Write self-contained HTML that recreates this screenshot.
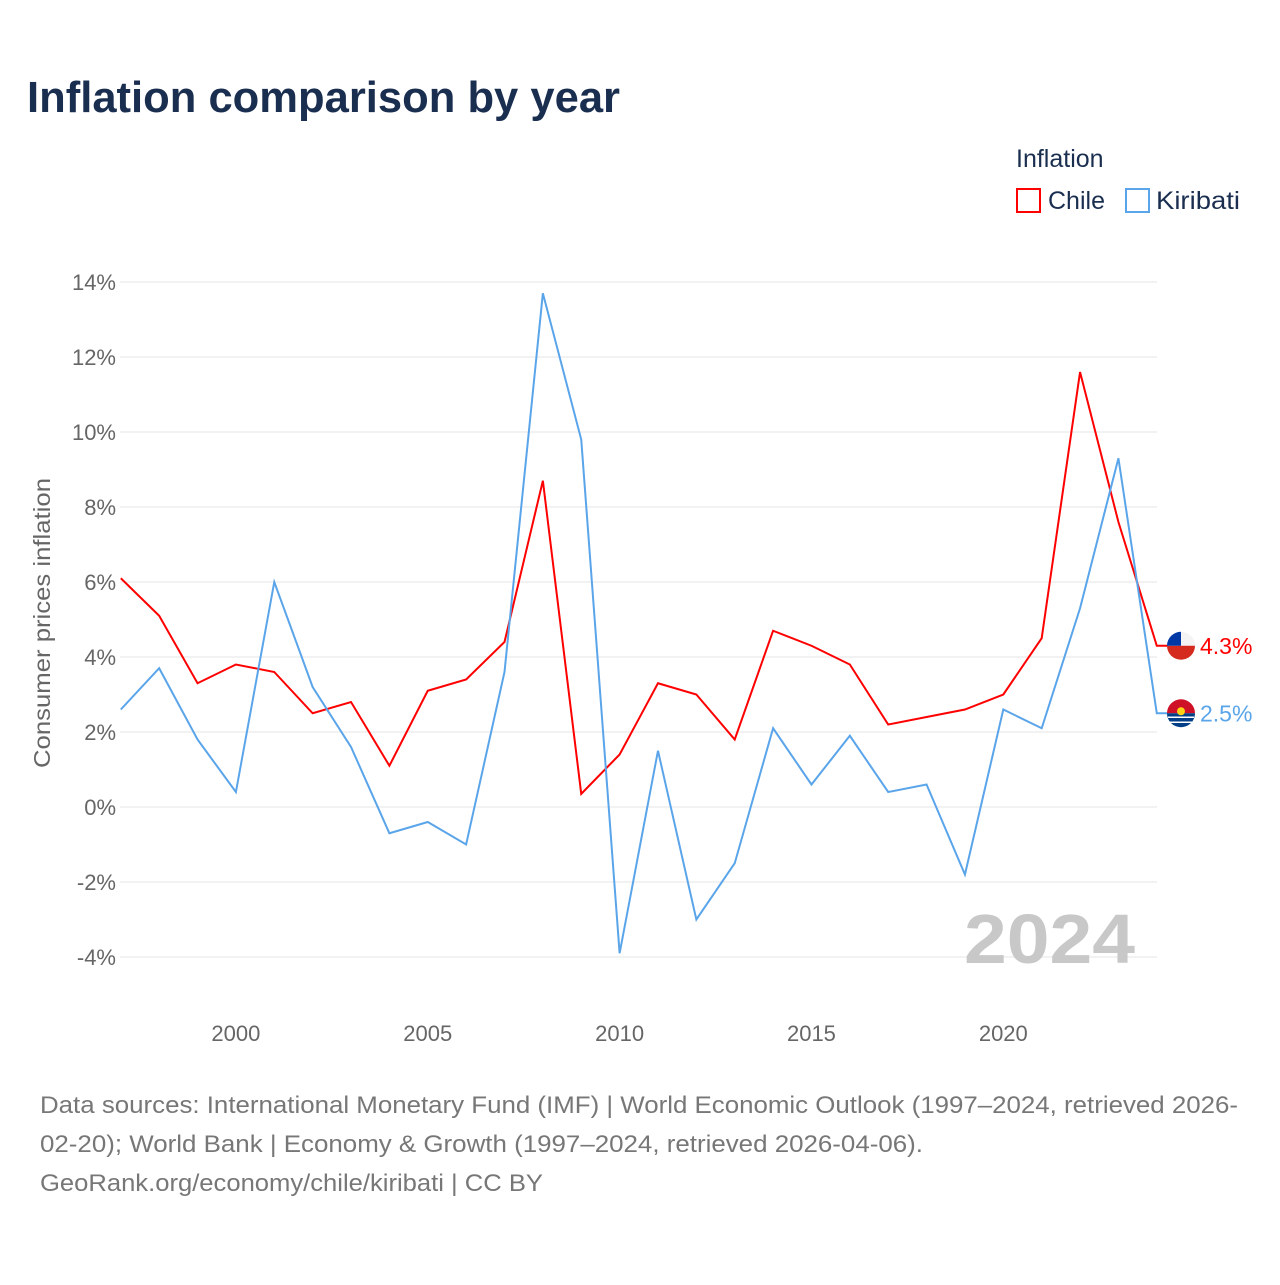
<!DOCTYPE html>
<html><head><meta charset="utf-8"><style>
body{margin:0;background:#fff;font-family:"Liberation Sans",sans-serif}
</style></head><body>
<svg id="c" width="1280" height="1280" xmlns="http://www.w3.org/2000/svg">
<text x="27" y="112" font-size="44" font-weight="bold" fill="#1a2e50" textLength="593" lengthAdjust="spacingAndGlyphs">Inflation comparison by year</text>
<text x="1016" y="167" font-size="25" fill="#1a2e50">Inflation</text>
<g><rect x="1017" y="189" width="23" height="23" fill="none" stroke="#f00" stroke-width="2"/><text x="1048" y="209" font-size="25" fill="#1a2e50">Chile</text></g>
<g><rect x="1126" y="189" width="23" height="23" fill="none" stroke="#5aa5ea" stroke-width="2"/><text x="1156" y="209" font-size="25" fill="#1a2e50" textLength="84" lengthAdjust="spacingAndGlyphs">Kiribati</text></g>
<text transform="translate(50,623) rotate(-90)" text-anchor="middle" font-size="23" fill="#666" textLength="290" lengthAdjust="spacingAndGlyphs">Consumer prices inflation</text>
<g id="grid"></g><g id="ticks"></g>
<text x="964" y="963" font-size="70" font-weight="bold" fill="#c8c8c8" textLength="171" lengthAdjust="spacingAndGlyphs">2024</text>
<g id="lines"></g>
<text x="40" y="1113" font-size="24" fill="#777" textLength="1198" lengthAdjust="spacingAndGlyphs">Data sources: International Monetary Fund (IMF) | World Economic Outlook (1997–2024, retrieved 2026-</text>
<text x="40" y="1152" font-size="24" fill="#777" textLength="883" lengthAdjust="spacingAndGlyphs">02-20); World Bank | Economy &amp; Growth (1997–2024, retrieved 2026-04-06).</text>
<text x="40" y="1191" font-size="24" fill="#777" textLength="503" lengthAdjust="spacingAndGlyphs">GeoRank.org/economy/chile/kiribati | CC BY</text>
</svg>
<script>
const years=[1997,1998,1999,2000,2001,2002,2003,2004,2005,2006,2007,2008,2009,2010,2011,2012,2013,2014,2015,2016,2017,2018,2019,2020,2021,2022,2023,2024];
const chile=[6.1,5.1,3.3,3.8,3.6,2.5,2.8,1.1,3.1,3.4,4.4,8.7,0.35,1.4,3.3,3.0,1.8,4.7,4.3,3.8,2.2,2.4,2.6,3.0,4.5,11.6,7.6,4.3];
const kiribati=[2.6,3.7,1.8,0.4,6.0,3.2,1.6,-0.7,-0.4,-1.0,3.6,13.7,9.8,-3.9,1.5,-3.0,-1.5,2.1,0.6,1.9,0.4,0.6,-1.8,2.6,2.1,5.3,9.3,2.5];
const yTicks=[-4,-2,0,2,4,6,8,10,12,14];
const xTicks=[2000,2005,2010,2015,2020];
const NS="http://www.w3.org/2000/svg";
const X=y=>120.8+(y-1997)*38.37;
const Y=v=>807-v*37.5;
function mk(t,a,p){const e=document.createElementNS(NS,t);for(const k in a)e.setAttribute(k,a[k]);p.appendChild(e);return e;}
const grid=document.getElementById('grid'),ticks=document.getElementById('ticks'),lines=document.getElementById('lines');
yTicks.forEach(v=>{
const l=mk('line',{x1:120,x2:1157,y1:Y(v),y2:Y(v),stroke:'#e6e6e6','stroke-width':1},grid);


const t=mk('text',{x:116,y:Y(v)+8,'text-anchor':'end','font-size':22,fill:'#666'},ticks);
t.textContent=v+'%';


});
xTicks.forEach(v=>{
const t=mk('text',{x:X(v),y:1041,'text-anchor':'middle','font-size':22,fill:'#666'},ticks);
t.textContent=v;


});
function series(vals,col,name,label,flag){
let d=vals.map((v,i)=>(i?'L':'M')+X(years[i])+','+Y(v)).join(' ');
const last=vals[vals.length-1];
d+=' L1168,'+Y(last);
const p=mk('path',{d:d,fill:'none',stroke:col,'stroke-width':2},lines);


const g=mk('g',{},lines);


const cy=Y(last);
if(flag==='cl'){
mk('path',{d:`M1167,${cy} A14,14 0 0 1 1195,${cy} Z`,fill:'#f4f4f4'},g);
mk('path',{d:`M1167,${cy} A14,14 0 0 0 1195,${cy} Z`,fill:'#d52b1e'},g);
mk('path',{d:`M1167,${cy} A14,14 0 0 1 1181,${cy-14} L1181,${cy} Z`,fill:'#0039a6'},g);
}else{
mk('path',{d:`M1167,${cy} A14,14 0 0 1 1195,${cy} Z`,fill:'#ce1126'},g);
mk('path',{d:`M1167,${cy} A14,14 0 0 0 1195,${cy} Z`,fill:'#003f87'},g);
mk('circle',{cx:1181,cy:cy-2,r:4,fill:'#fcd116'},g);
mk('line',{x1:1168,x2:1194,y1:cy+4,y2:cy+4,stroke:'#fff','stroke-width':1.5},g);
mk('line',{x1:1170,x2:1192,y1:cy+9,y2:cy+9,stroke:'#fff','stroke-width':1.5},g);
}
const t=mk('text',{x:1200,y:cy+8,'font-size':23,fill:col},lines);
t.textContent=label;


}
series(chile,'#f00','chile','4.3%','cl');
series(kiribati,'#5aa5ea','kiribati','2.5%','ki');
</script>
</body></html>
